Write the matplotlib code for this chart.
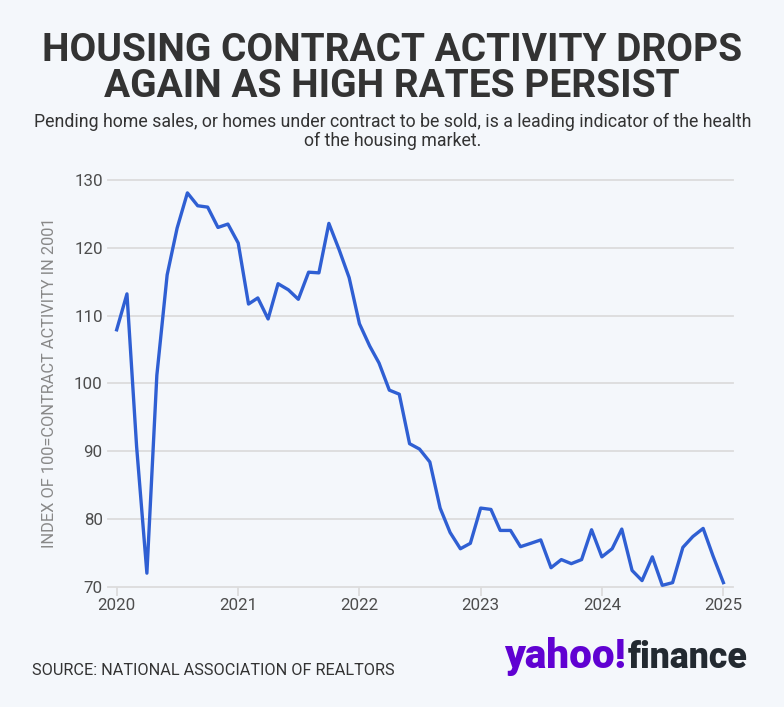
import numpy as np
import pandas as pd
import matplotlib
matplotlib.use("Agg")
import matplotlib.pyplot as plt

# ---------------- data ----------------
months = pd.date_range("2020-01-01", "2025-01-01", freq="MS")
index_values = [
    107.9, 113.2, 90.7, 72.0, 101.2, 116.0, 122.9, 128.1, 126.2, 126.0, 123.0, 123.5,  # 2020
    120.7, 111.7, 112.6, 109.5, 114.7, 113.8, 112.4, 116.4, 116.3, 123.6, 119.7, 115.6,  # 2021
    108.8, 105.5, 103.0, 99.0, 98.4, 91.1, 90.3, 88.4, 81.6, 78.0, 75.6, 76.4,          # 2022
    81.6, 81.4, 78.3, 78.3, 75.9, 76.4, 76.9, 72.8, 74.0, 73.4, 74.0, 78.4,             # 2023
    74.4, 75.6, 78.5, 72.4, 70.9, 74.4, 70.2, 70.6, 75.8, 77.4, 78.6, 74.5,             # 2024
    70.6,                                                                                # 2025
]
year_ticks = [2020, 2021, 2022, 2023, 2024, 2025]
y_ticks = [70, 80, 90, 100, 110, 120, 130]

title_lines = ["HOUSING CONTRACT ACTIVITY DROPS", "AGAIN AS HIGH RATES PERSIST"]
subtitle_lines = ["Pending home sales, or homes under contract to be sold, is a leading indicator of the health",
                  "of the housing market."]
y_label = "INDEX OF 100=CONTRACT ACTIVITY IN 2001"
source = "SOURCE: NATIONAL ASSOCIATION OF REALTORS"

# ---------------- style ----------------
W, H = 784, 707
BG = "#f4f7fb"
LINE = "#2f5fd3"
GRID = "#dcdcdc"
TXT = "#333333"
TICK = "#4d4d4d"
FONT = "Roboto"

plt.rcParams["font.family"] = [FONT, "DejaVu Sans"]

fig = plt.figure(figsize=(W / 100, H / 100), dpi=100, facecolor=BG)
ax = fig.add_axes([107.7 / W, 1 - 586.7 / H, 625 / W, (586.7 - 180) / H])
ax.set_facecolor(BG)

ax.plot(months, index_values, color=LINE, lw=2.4, zorder=3)

ax.set_ylim(70, 130)
ax.set_yticks(y_ticks)
ax.set_xlim(pd.Timestamp("2019-12-05"), pd.Timestamp("2025-01-29"))
ax.set_xticks([pd.Timestamp(f"{y}-01-01") for y in year_ticks])
ax.set_xticklabels([str(y) for y in year_ticks])

for s in ax.spines.values():
    s.set_visible(False)
ax.grid(axis="y", color=GRID, lw=1.3)
ax.set_axisbelow(True)
for gl in ax.get_ygridlines():
    gl.set_clip_on(False)

ax.tick_params(axis="x", length=6.5, width=1.3, color=GRID, pad=1.5, labelsize=12.5, labelcolor=TICK)
ax.tick_params(axis="y", length=0, pad=3.6, labelsize=12.5, labelcolor=TICK)


def fx(px):
    return px / W


def fy(py):
    return 1 - py / H


t1 = fig.text(fx(392), fy(61), title_lines[0], ha="center", va="baseline",
              fontsize=27, fontweight="bold", color=TXT)
t2 = fig.text(fx(392), fy(96.7), title_lines[1], ha="center", va="baseline",
              fontsize=27, fontweight="bold", color=TXT)
s1 = fig.text(fx(392.3), fy(126.7), subtitle_lines[0], ha="center", va="baseline",
              fontsize=12, color=TXT)
s2 = fig.text(fx(392.3), fy(146), subtitle_lines[1], ha="center", va="baseline",
              fontsize=12, color=TXT)
yl = fig.text(fx(50), fy(383), y_label, ha="center", va="center", rotation=90,
              fontsize=10, color="#888888")
src = fig.text(fx(32), fy(675), source, ha="left", va="baseline", fontsize=11, color=TXT)
logo1 = fig.text(fx(504), fy(668), "yahoo!", ha="left", va="baseline", fontsize=24,
                 fontweight="black", color="#6001d2")
logo2 = fig.text(fx(628), fy(668), "finance", ha="left", va="baseline", fontsize=24,
                 fontweight="black", color="#232a31")

fig.canvas.draw()
r = fig.canvas.get_renderer()


def fit(t, target, dim="w"):
    for _ in range(3):
        bb = t.get_window_extent(renderer=r)
        cur = bb.width if dim == "w" else bb.height
        if cur > 0:
            t.set_fontsize(t.get_fontsize() * target / cur)


fit(t1, 698)
t2.set_fontsize(t1.get_fontsize())
fit(s1, 719)
s2.set_fontsize(s1.get_fontsize())
fit(yl, 330, "h")
fit(src, 361)
fit(logo1, 122)
fit(logo2, 120)

# tick label sizes
xl = ax.get_xticklabels()
fit(xl[0], 38)
tsize = xl[0].get_fontsize()
ax.tick_params(axis="both", labelsize=tsize)

fig.savefig("out.png", dpi=100, facecolor=BG)
